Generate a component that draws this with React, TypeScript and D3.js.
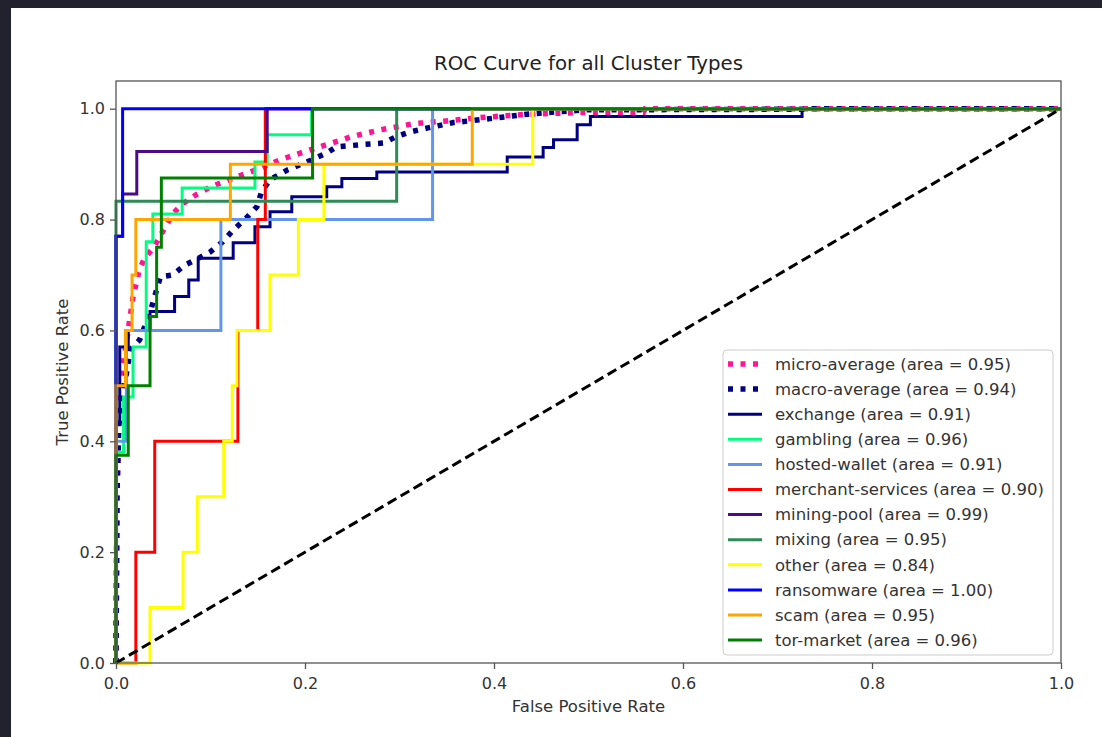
import React, { useEffect, useRef } from "react";
import * as d3 from "d3";

// ROC corner points [fpr, tpr]; class curves are drawn as steps (up, then right)
const exchange = [[0, 0], [0.004, 0.43], [0.013, 0.57], [0.036, 0.6], [0.062, 0.634], [0.077, 0.661], [0.087, 0.691], [0.124, 0.73], [0.147, 0.758], [0.163, 0.787], [0.186, 0.814], [0.223, 0.841], [0.239, 0.859], [0.276, 0.874], [0.414, 0.886], [0.452, 0.913], [0.463, 0.93], [0.488, 0.944], [0.502, 0.971], [0.726, 0.986], [1, 1]];
const gambling = [[0, 0], [0.008, 0.38], [0.018, 0.48], [0.032, 0.57], [0.039, 0.76], [0.07, 0.81], [0.147, 0.857], [0.16, 0.904], [0.207, 0.953], [1, 1]];
const hostedWallet = [[0, 0], [0.011, 0.4], [0.111, 0.6], [0.335, 0.8], [1, 1]];
const merchantServices = [[0, 0], [0.021, 0], [0.041, 0.2], [0.129, 0.4], [0.15, 0.6], [0.158, 0.8], [1, 1]];
const miningPool = [[0, 0], [0.007, 0.77], [0.022, 0.846], [0.16, 0.923], [1, 1]];
const mixing = [[0, 0], [0.297, 0.833], [1, 1]];
const other = [[0, 0], [0.036, 0], [0.071, 0.1], [0.086, 0.2], [0.114, 0.3], [0.123, 0.4], [0.128, 0.5], [0.163, 0.6], [0.193, 0.7], [0.22, 0.8], [0.441, 0.9], [1, 1]];
const ransomware = [[0, 0], [0.007, 0.77], [1, 1]];
const scam = [[0, 0], [0.01, 0.5], [0.017, 0.6], [0.021, 0.7], [0.121, 0.8], [0.377, 0.9], [1, 1]];
const torMarket = [[0, 0], [0.013, 0.375], [0.036, 0.5], [0.043, 0.625], [0.048, 0.75], [0.208, 0.875], [1, 1]];

const microAverage = [[0, 0], [0.001, 0.3], [0.003, 0.45], [0.006, 0.52], [0.012, 0.59], [0.018, 0.66], [0.024, 0.705], [0.03, 0.73], [0.04, 0.75], [0.05, 0.78], [0.06, 0.81], [0.07, 0.828], [0.085, 0.845], [0.1, 0.859], [0.128, 0.877], [0.149, 0.89], [0.174, 0.908], [0.195, 0.92], [0.223, 0.935], [0.25, 0.95], [0.28, 0.962], [0.315, 0.973], [0.35, 0.978], [0.385, 0.984], [0.435, 0.99], [0.49, 0.993], [0.558, 0.993], [0.56, 1], [1, 1]];
const macroAverage = [[0, 0], [0.001, 0.3], [0.003, 0.43], [0.008, 0.49], [0.015, 0.565], [0.025, 0.583], [0.036, 0.632], [0.047, 0.697], [0.06, 0.7], [0.073, 0.718], [0.087, 0.73], [0.1, 0.742], [0.113, 0.76], [0.124, 0.781], [0.138, 0.803], [0.149, 0.823], [0.154, 0.85], [0.163, 0.872], [0.182, 0.89], [0.202, 0.904], [0.223, 0.92], [0.233, 0.931], [0.258, 0.935], [0.283, 0.938], [0.297, 0.95], [0.311, 0.958], [0.329, 0.965], [0.357, 0.975], [0.385, 0.98], [0.435, 0.99], [0.456, 0.993], [0.498, 0.998], [0.726, 0.999], [0.73, 1], [1, 1]];

const classNames = ["exchange", "gambling", "hosted-wallet", "merchant-services", "mining-pool", "mixing", "other", "ransomware", "scam", "tor-market"];
const classAreas = [0.91, 0.96, 0.91, 0.9, 0.99, 0.95, 0.84, 1.0, 0.95, 0.96];
const classCurves = [exchange, gambling, hostedWallet, merchantServices, miningPool, mixing, other, ransomware, scam, torMarket];
const microArea = 0.95;
const macroArea = 0.94;
const axisTicks = [0, 0.2, 0.4, 0.6, 0.8, 1.0];

const classColors = ["#000080", "#00ff7f", "#6495ed", "#ff0000", "#4b0a86", "#2e8b57", "#ffff00", "#0000ff", "#ffa500", "#008000"];

const FONT = "DejaVu Sans, sans-serif";

const RocChart = () => {
  const svgRef = useRef(null);

  useEffect(() => {
    const width = 1102;
    const height = 737;
    const plot = { left: 116, right: 1061, top: 81, bottom: 663 };

    const svg = d3.select(svgRef.current);
    svg.selectAll("*").remove();

    svg.append("rect").attr("width", width).attr("height", height).attr("fill", "#21222d");
    svg.append("rect").attr("x", 11).attr("y", 8).attr("width", width - 11).attr("height", height - 8).attr("fill", "#fff");

    const x = d3.scaleLinear().domain([0, 1]).range([plot.left, plot.right]);
    const y = d3.scaleLinear().domain([0, 1.05]).range([plot.bottom, plot.top]);

    const stepLine = d3
      .line()
      .x((d) => x(d[0]))
      .y((d) => y(d[1]))
      .curve(d3.curveStepBefore);

    const avgLine = d3
      .line()
      .x((d) => x(d[0]))
      .y((d) => y(d[1]));

    const lines = svg.append("g");

    lines
      .append("path")
      .datum(microAverage)
      .attr("fill", "none")
      .attr("stroke", "#ff1493")
      .attr("stroke-width", 5.5)
      .attr("stroke-dasharray", "5,7.5")
      .attr("d", avgLine);

    lines
      .append("path")
      .datum(macroAverage)
      .attr("fill", "none")
      .attr("stroke", "#000080")
      .attr("stroke-width", 5.5)
      .attr("stroke-dasharray", "5,7.5")
      .attr("d", avgLine);

    classCurves.forEach((curve, i) => {
      lines
        .append("path")
        .datum(curve)
        .attr("fill", "none")
        .attr("stroke", classColors[i])
        .attr("stroke-width", 3)
        .attr("d", stepLine);
    });

    lines
      .append("path")
      .datum([[0, 0], [1, 1]])
      .attr("fill", "none")
      .attr("stroke", "#000")
      .attr("stroke-width", 3)
      .attr("stroke-dasharray", "10,5")
      .attr("d", avgLine);

    // axes
    const xAxis = svg
      .append("g")
      .attr("transform", `translate(0, ${plot.bottom})`)
      .call(d3.axisBottom(x).tickValues(axisTicks).tickFormat(d3.format(".1f")).tickSize(6).tickSizeOuter(0).tickPadding(9));

    const yAxis = svg
      .append("g")
      .attr("transform", `translate(${plot.left}, 0)`)
      .call(d3.axisLeft(y).tickValues(axisTicks).tickFormat(d3.format(".1f")).tickSize(6).tickSizeOuter(0).tickPadding(5));

    [xAxis, yAxis].forEach((ax) => {
      ax.select(".domain").remove();
      ax.selectAll(".tick line").attr("stroke", "#555").attr("stroke-width", 1.3);
      ax.selectAll(".tick text").attr("fill", "#333").style("font-family", FONT).style("font-size", "16px");
    });

    svg
      .append("rect")
      .attr("x", plot.left)
      .attr("y", plot.top)
      .attr("width", plot.right - plot.left)
      .attr("height", plot.bottom - plot.top)
      .attr("fill", "none")
      .attr("stroke", "#555")
      .attr("stroke-width", 1.3);

    svg
      .append("text")
      .attr("x", (plot.left + plot.right) / 2)
      .attr("y", 70)
      .attr("text-anchor", "middle")
      .attr("fill", "#222")
      .style("font-family", FONT)
      .style("font-size", "19.8px")
      .text("ROC Curve for all Cluster Types");

    svg
      .append("text")
      .attr("x", (plot.left + plot.right) / 2)
      .attr("y", 712)
      .attr("text-anchor", "middle")
      .attr("fill", "#333")
      .style("font-family", FONT)
      .style("font-size", "16.5px")
      .text("False Positive Rate");

    svg
      .append("text")
      .attr("transform", `translate(68, ${(plot.top + plot.bottom) / 2}) rotate(-90)`)
      .attr("text-anchor", "middle")
      .attr("fill", "#333")
      .style("font-family", FONT)
      .style("font-size", "16.5px")
      .text("True Positive Rate");

    // legend
    const legendItems = [
      { label: `micro-average (area = ${microArea.toFixed(2)})`, color: "#ff1493", dotted: true },
      { label: `macro-average (area = ${macroArea.toFixed(2)})`, color: "#000080", dotted: true },
      ...classNames.map((name, i) => ({ label: `${name} (area = ${classAreas[i].toFixed(2)})`, color: classColors[i], dotted: false })),
    ];

    svg
      .append("rect")
      .attr("x", 723)
      .attr("y", 350)
      .attr("width", 330)
      .attr("height", 305)
      .attr("rx", 4)
      .attr("fill", "#fff")
      .attr("fill-opacity", 0.8)
      .attr("stroke", "#ccc");

    const legend = svg
      .selectAll(".legend")
      .data(legendItems)
      .enter()
      .append("g")
      .attr("class", "legend")
      .attr("transform", (d, i) => `translate(728, ${364 + i * 25.1})`);

    legend
      .append("line")
      .attr("x1", 0)
      .attr("x2", 34)
      .attr("stroke", (d) => d.color)
      .attr("stroke-width", (d) => (d.dotted ? 5.5 : 3))
      .attr("stroke-dasharray", (d) => (d.dotted ? "5,7.5" : null));

    legend
      .append("text")
      .attr("x", 47)
      .attr("dy", "0.35em")
      .attr("fill", "#333")
      .style("font-family", FONT)
      .style("font-size", "16.5px")
      .text((d) => d.label);
  }, []);

  return (
    <div style={{ position: "absolute", left: 0, top: 0 }}>
      <svg ref={svgRef} width={1102} height={737} style={{ display: "block" }} />
    </div>
  );
};

export default function App() {
  return <RocChart />;
}
